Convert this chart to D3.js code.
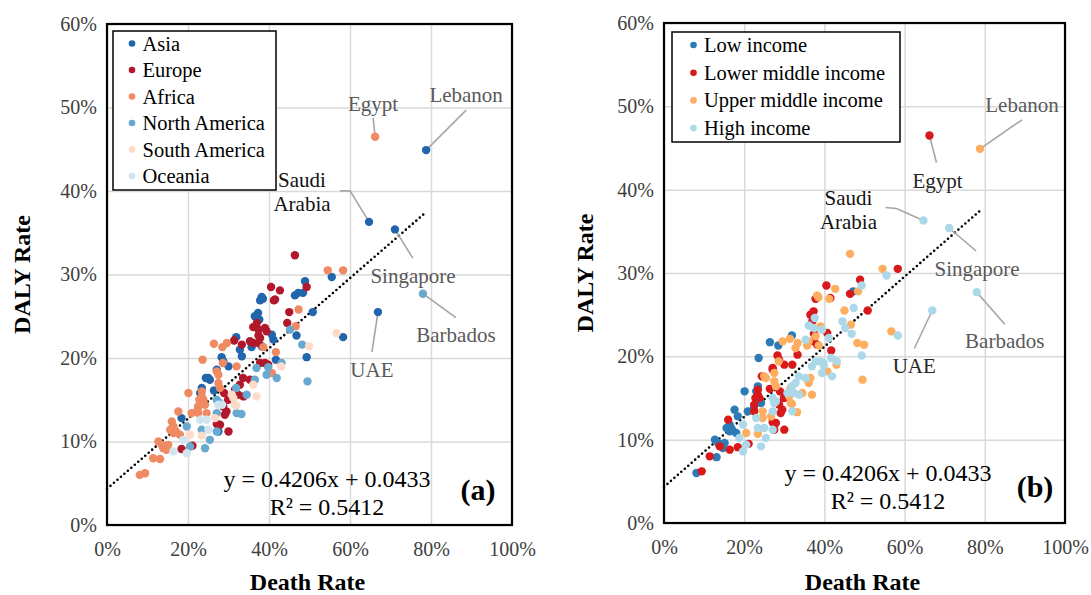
<!DOCTYPE html>
<html>
<head>
<meta charset="utf-8">
<script src="https://cdn.jsdelivr.net/npm/d3@7/dist/d3.min.js"></script>
<style>
  body { margin: 0; background: #fff; }
</style>
</head>
<body>
<svg id="chart" width="1091" height="595"></svg>
<script>
// ---- data (percent) ----
const xTicks = [0, 20, 40, 60, 80, 100];
const yTicks = [0, 10, 20, 30, 40, 50, 60];

const regions = ["Asia", "Europe", "Africa", "North America", "South America", "Oceania"];
const regionCode = { A: "Asia", E: "Europe", F: "Africa", N: "North America", S: "South America", O: "Oceania" };
const incomes = ["Low income", "Lower middle income", "Upper middle income", "High income"];
const incomeCode = { L: "Low income", M: "Lower middle income", U: "Upper middle income", H: "High income" };

const labelled = ["Lebanon", "Egypt", "Saudi Arabia", "Singapore", "Barbados", "UAE"];

const deathRate = [
  78.8, 66.2, 64.7, 71.1, 78.0, 66.9, 58.3, 56.7, 46.4, 54.5,
  58.3, 55.5, 48.9, 49.3, 46.4, 47.2, 48.4, 40.5, 42.7, 37.8,
  38.5, 41.2, 45.0, 47.3, 50.8, 37.3, 36.5, 37.0, 36.1, 37.4,
  39.4, 39.0, 44.5, 46.6, 45.2, 46.8, 40.7, 31.9, 31.4, 33.3,
  35.3, 36.1, 37.4, 35.7, 38.2, 26.4, 28.5, 29.6, 32.8, 33.3,
  41.7, 48.2, 49.9, 41.7, 49.3, 23.6, 28.3, 28.7, 28.6, 37.8,
  39.0, 39.8, 39.8, 43.0, 32.0, 27.1, 27.5, 25.0, 40.7, 41.9,
  33.6, 35.3, 36.5, 49.5, 26.4, 27.5, 27.9, 32.8, 31.6, 36.1,
  31.9, 30.8, 32.4, 34.5, 36.9, 23.4, 23.8, 27.1, 27.5, 28.4,
  31.9, 28.7, 29.1, 32.0, 33.2, 30.0, 24.4, 25.4, 39.4, 20.1,
  23.0, 23.4, 28.9, 22.5, 24.2, 27.9, 29.5, 31.2, 31.6, 17.6,
  20.9, 22.5, 24.6, 18.4, 23.0, 24.6, 26.7, 27.1, 16.0, 16.4,
  19.7, 23.4, 27.9, 30.0, 25.0, 15.6, 16.4, 20.5, 27.1, 23.4,
  25.4, 18.8, 12.7, 13.5, 13.9, 15.1, 14.7, 18.4, 20.5, 16.4,
  24.2, 19.7, 21.1, 11.4, 13.1, 8.1, 9.4, 27.5, 17.0, 18.0,
  22.8, 22.4, 23.4, 27.1, 37.6, 37.8, 38.6, 37.4, 33.7, 29.9,
  27.1, 36.9, 41.5, 38.2, 41.1, 43.1
];

const dalyRate = [
  44.9, 46.5, 36.3, 35.4, 27.7, 25.5, 22.5, 23.0, 32.3, 30.5,
  30.5, 29.7, 29.2, 28.5, 27.5, 27.8, 27.8, 28.5, 28.1, 26.9,
  27.1, 26.9, 25.5, 25.8, 25.5, 25.4, 25.0, 24.2, 23.7, 23.4,
  23.2, 23.6, 24.2, 23.8, 23.4, 22.7, 22.8, 22.5, 22.1, 21.6,
  22.0, 21.8, 21.8, 21.3, 21.4, 21.7, 21.3, 21.8, 21.0, 20.2,
  20.7, 21.6, 21.4, 19.8, 20.1, 19.8, 20.1, 19.6, 19.4, 19.4,
  19.4, 19.2, 18.9, 19.0, 19.0, 18.4, 18.0, 17.6, 18.2, 17.6,
  17.6, 17.4, 17.4, 17.2, 16.1, 17.0, 16.4, 16.8, 16.2, 16.8,
  16.4, 15.6, 15.6, 15.6, 15.4, 16.0, 15.0, 15.0, 14.4, 14.4,
  14.3, 14.2, 13.2, 13.4, 13.3, 19.0, 17.6, 17.4, 18.0, 15.8,
  15.8, 15.4, 15.8, 14.2, 14.4, 14.6, 13.6, 15.2, 14.4, 13.6,
  13.4, 13.4, 13.4, 12.8, 12.6, 12.6, 12.8, 13.4, 12.4, 11.8,
  11.8, 11.4, 12.0, 11.2, 11.4, 11.4, 11.0, 10.8, 11.2, 10.7,
  10.2, 10.2, 10.0, 9.6, 9.2, 9.6, 9.0, 9.1, 9.4, 8.8,
  9.2, 8.6, 9.5, 8.0, 7.9, 6.0, 6.2, 11.2, 11.2, 10.8,
  15.0, 13.8, 16.4, 18.6, 24.6, 22.4, 21.3, 22.7, 15.4, 15.0,
  12.1, 18.8, 27.0, 27.3, 22.2, 19.4
];

const regionOf = [
  "A","F","A","A","N","A","A","S","E","F",
  "F","A","A","E","A","A","A","E","E","A",
  "A","E","E","F","A","A","A","E","E","E",
  "E","E","E","F","N","A","A","A","E","E",
  "E","E","E","A","A","F","F","F","A","A",
  "F","N","S","A","A","F","A","A","F","E",
  "E","E","N","S","F","F","F","A","F","N",
  "E","E","N","N","A","F","F","E","E","S",
  "N","S","E","N","S","F","F","N","O","O",
  "S","E","E","N","N","A","A","A","N","F",
  "A","F","E","F","F","N","E","S","S","F",
  "F","F","F","A","O","O","S","N","F","F",
  "N","N","E","E","O","F","F","S","N","S",
  "N","O","F","F","F","F","F","E","N","O",
  "N","O","E","F","F","F","F","A","F","F",
  "F","F","A","A","A","E","F","E","E","E",
  "E","N","E","A","A","N"
];

const incomeOf = [
  "U","M","H","H","H","H","H","U","U","U",
  "M","H","M","H","M","L","U","M","U","M",
  "U","U","U","H","M","M","M","M","H","H",
  "H","U","H","U","H","H","M","L","U","U",
  "H","U","M","U","M","L","L","U","U","M",
  "M","U","U","H","H","L","M","M","U","H",
  "H","H","H","U","M","M","U","U","U","H",
  "H","H","U","U","M","U","U","H","U","U",
  "H","H","H","U","U","M","M","H","H","M",
  "U","M","M","H","U","M","M","U","H","L",
  "L","M","M","M","L","H","M","U","U","L",
  "L","M","U","L","H","U","U","H","M","L",
  "H","H","M","M","H","L","L","U","H","U",
  "H","H","L","L","M","L","L","M","H","M",
  "H","H","M","M","L","L","M","M","L","L",
  "M","L","L","M","H","U","U","M","H","M",
  "M","H","M","U","H","H"
];

const trendSlope = 0.4206;
const trendIntercept = 0.0433;
const trendEnd = 78.8;
const rSquared = 0.5412;

// ---- colours ----
const regionColors = ["#2166ac", "#b2182b", "#ef8a62", "#67a9cf", "#fddbc7", "#d1e5f0"];
const incomeColors = ["#2c7bb6", "#d7191c", "#fdae61", "#abd9e9"];
const SERIF = '"Liberation Serif", "Times New Roman", serif';

const points = deathRate.map((d, i) => ({
  x: d / 100,
  y: dalyRate[i] / 100,
  region: regionCode[regionOf[i]],
  income: incomeCode[incomeOf[i]],
  name: i < labelled.length ? labelled[i] : null
}));

const svg = d3.select("#chart");

// panel layout
const panels = [
  {
    left: 107, top: 24, width: 405, height: 501, tag: "(a)",
    key: "region", groups: regions, colors: regionColors,
    legend: { x: 113, y: 31, w: 163, h: 159, row: 26.5, first: 43.5, dot: 19, text: 29.5 },
    eq: { x: 220, y: 455 }, tagPos: { x: 371, y: 466 },
    notes: {
      "Egypt":        { tx: -2, ty: -33, path: [[-2, -19]], color: "#595959" },
      "Lebanon":      { tx: 40, ty: -55, path: [[40, -40]], color: "#595959" },
      "Saudi Arabia": { tx: -67, ty: -30, path: [[-19, -31], [-29, -31]], color: "#111" },
      "Singapore":    { tx: 18, ty: 47, path: [[18, 29]], color: "#595959" },
      "Barbados":     { tx: 33, ty: 41, path: [[33, 24]], color: "#595959" },
      "UAE":          { tx: -6, ty: 58, path: [[-6, 40]], color: "#595959" }
    },
    yTitleX: 22
  },
  {
    left: 664, top: 23, width: 401, height: 500, tag: "(b)",
    key: "income", groups: incomes, colors: incomeColors,
    legend: { x: 672, y: 32, w: 228, h: 110, row: 27.7, first: 45, dot: 21.5, text: 32 },
    eq: { x: 224, y: 450 }, tagPos: { x: 371, y: 464 },
    notes: {
      "Egypt":        { tx: 8, ty: 45, path: [[7, 27]], color: "#262626" },
      "Lebanon":      { tx: 42, ty: -44, path: [[42, -29]], color: "#595959" },
      "Saudi Arabia": { tx: -75, ty: -11, path: [[-27, -12], [-38, -13]], color: "#111" },
      "Singapore":    { tx: 28, ty: 41, path: [[27, 23]], color: "#595959" },
      "Barbados":     { tx: 28, ty: 49, path: [[28, 32]], color: "#595959" },
      "UAE":          { tx: -18, ty: 55, path: [[-18, 38]], color: "#262626" }
    },
    yTitleX: 585
  }
];

panels.forEach(p => {
  const g = svg.append("g").attr("transform", `translate(${p.left},${p.top})`);

  const x = d3.scaleLinear().domain([0, 1]).range([0, p.width]);
  const y = d3.scaleLinear().domain([0, 0.6]).range([p.height, 0]);

  // gridlines
  g.append("g")
    .call(d3.axisBottom(x).tickValues(xTicks.map(t => t / 100)).tickSize(p.height).tickFormat(""))
    .call(s => s.select(".domain").remove())
    .call(s => s.selectAll("line").attr("stroke", "#d9d9d9").attr("stroke-width", 1.5));
  g.append("g")
    .call(d3.axisLeft(y).tickValues(yTicks.map(t => t / 100)).tickSize(-p.width).tickFormat(""))
    .call(s => s.select(".domain").remove())
    .call(s => s.selectAll("line").attr("stroke", "#d9d9d9").attr("stroke-width", 1.5));

  // tick labels
  g.append("g")
    .attr("transform", `translate(0,${p.height})`)
    .call(d3.axisBottom(x).tickValues(xTicks.map(t => t / 100)).tickSize(0).tickPadding(17)
      .tickFormat(d => Math.round(d * 100) + "%"))
    .call(s => s.select(".domain").remove())
    .call(s => s.selectAll("text").attr("font-size", 20).attr("fill", "#404040")
      .style("font-family", SERIF));
  g.append("g")
    .call(d3.axisLeft(y).tickValues(yTicks.map(t => t / 100)).tickSize(0).tickPadding(10)
      .tickFormat(d => Math.round(d * 100) + "%"))
    .call(s => s.select(".domain").remove())
    .call(s => s.selectAll("text").attr("font-size", 20).attr("fill", "#404040")
      .style("font-family", SERIF));

  // axis titles
  svg.append("text")
    .attr("x", p.left + p.width / 2 - 2)
    .attr("y", 590)
    .attr("text-anchor", "middle")
    .style("font-family", SERIF)
    .attr("font-size", 24).attr("font-weight", "bold")
    .text("Death Rate");
  svg.append("text")
    .attr("transform", `translate(${p.yTitleX + 8},${p.top + p.height / 2}) rotate(-90)`)
    .attr("text-anchor", "middle")
    .style("font-family", SERIF)
    .attr("font-size", 24).attr("font-weight", "bold")
    .text("DALY Rate");

  // trendline
  const trend = [0, trendEnd / 100].map(v => ({ x: v, y: trendSlope * v + trendIntercept }));
  g.append("path")
    .datum(trend)
    .attr("d", d3.line().x(d => x(d.x)).y(d => y(d.y)))
    .attr("fill", "none")
    .attr("stroke", "#000")
    .attr("stroke-width", 2.6)
    .attr("stroke-linecap", "round")
    .attr("stroke-dasharray", "0 4.6");

  // leader lines for named countries
  points.filter(d => d.name).forEach(d => {
    const n = p.notes[d.name];
    const px = x(d.x), py = y(d.y);
    const pts = [[px, py]].concat(n.path.map(q => [px + q[0], py + q[1]]));
    g.append("path")
      .attr("d", d3.line()(pts))
      .attr("fill", "none")
      .attr("stroke", "#a6a6a6")
      .attr("stroke-width", 1.6);
  });

  // points, drawn group by group
  const color = d3.scaleOrdinal().domain(p.groups).range(p.colors);
  const sorted = p.groups.flatMap(gr => points.filter(d => d[p.key] === gr));
  g.append("g").selectAll("circle")
    .data(sorted)
    .join("circle")
    .attr("cx", d => x(d.x))
    .attr("cy", d => y(d.y))
    .attr("r", 4.2)
    .attr("fill", d => color(d[p.key]));

  // country labels
  points.filter(d => d.name).forEach(d => {
    const n = p.notes[d.name];
    const px = x(d.x) + n.tx, py = y(d.y) + n.ty;
    const words = d.name === "Saudi Arabia" ? ["Saudi", "Arabia"] : [d.name];
    words.forEach((w, i) => {
      g.append("text")
        .attr("x", px).attr("y", py + 7 + i * 24 - (words.length - 1) * 12)
        .attr("text-anchor", "middle")
        .style("font-family", SERIF)
        .attr("font-size", 21)
        .attr("fill", n.color)
        .text(w);
    });
  });

  // equation
  g.append("text")
    .attr("x", p.eq.x).attr("y", p.eq.y + 8)
    .attr("text-anchor", "middle").attr("font-size", 24).attr("fill", "#000")
    .style("font-family", SERIF)
    .text(`y = ${trendSlope}x + ${trendIntercept}`);
  g.append("text")
    .attr("x", p.eq.x).attr("y", p.eq.y + 36)
    .attr("text-anchor", "middle").attr("font-size", 24).attr("fill", "#000")
    .style("font-family", SERIF)
    .text(`R² = ${rSquared}`);

  g.append("text")
    .attr("x", p.tagPos.x).attr("y", p.tagPos.y + 10)
    .attr("text-anchor", "middle")
    .style("font-family", SERIF)
    .attr("font-size", 30).attr("font-weight", "bold")
    .text(p.tag);

  // plot border
  g.append("rect")
    .attr("width", p.width).attr("height", p.height)
    .attr("fill", "none").attr("stroke", "#000").attr("stroke-width", 2.2);

  // legend
  const L = p.legend;
  const lg = svg.append("g").attr("transform", `translate(${L.x},${L.y})`);
  lg.append("rect")
    .attr("width", L.w).attr("height", L.h)
    .attr("fill", "#fff").attr("stroke", "#000").attr("stroke-width", 1.5);
  p.groups.forEach((gr, i) => {
    const cy = L.first - L.y + i * L.row;
    lg.append("circle").attr("cx", L.dot).attr("cy", cy).attr("r", 3.3).attr("fill", color(gr));
    lg.append("text").attr("x", L.text).attr("y", cy + 7)
      .style("font-family", SERIF)
      .attr("font-size", 20.5).attr("fill", "#000").text(gr);
  });
});
</script>
</body>
</html>
